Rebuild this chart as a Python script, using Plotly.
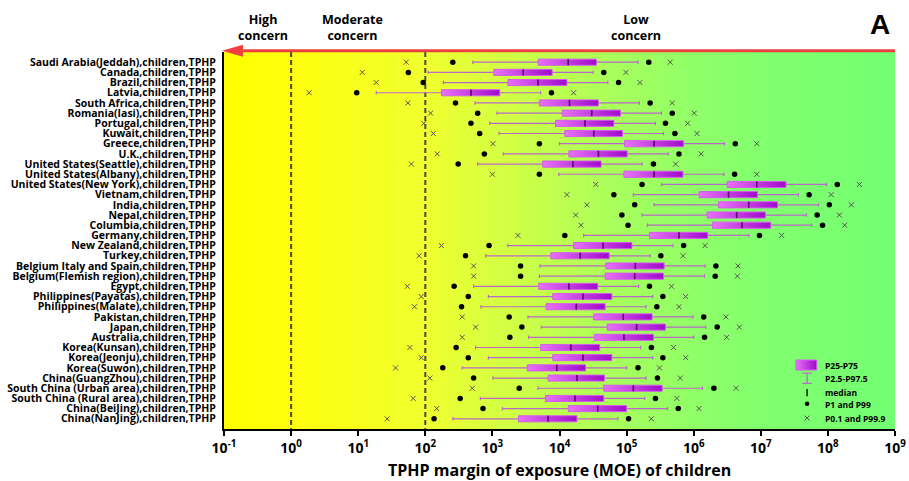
import plotly.graph_objects as go

labels = [
    "Saudi Arabia(Jeddah),children,TPHP", "Canada,children,TPHP", "Brazil,children,TPHP",
    "Latvia,children,TPHP", "South Africa,children,TPHP", "Romania(Iasi),children,TPHP",
    "Portugal,children,TPHP", "Kuwait,children,TPHP", "Greece,children,TPHP",
    "U.K.,children,TPHP", "United States(Seattle),children,TPHP",
    "United States(Albany),children,TPHP", "United States(New York),children,TPHP",
    "Vietnam,children,TPHP", "India,children,TPHP", "Nepal,children,TPHP",
    "Columbia,children,TPHP", "Germany,children,TPHP", "New Zealand,children,TPHP",
    "Turkey,children,TPHP", "Belgium Italy and Spain,children,TPHP",
    "Belgium(Flemish region),children,TPHP", "Egypt,children,TPHP",
    "Philippines(Payatas),children,TPHP", "Philippines(Malate),children,TPHP",
    "Pakistan,children,TPHP", "Japan,children,TPHP", "Australia,children,TPHP",
    "Korea(Kunsan),children,TPHP", "Korea(Jeonju),children,TPHP",
    "Korea(Suwon),children,TPHP", "China(GuangZhou),children,TPHP",
    "South China (Urban area),children,TPHP", "South China (Rural area),children,TPHP",
    "China(BeiJing),children,TPHP", "China(NanJing),children,TPHP",
]

p0_1 = [52, 11.5, 18.6, 1.86, 55, 120, 95, 132, 1020, 151, 62, 1000, 34700, 12900, 25700,
        17400, 20900, 2400, 174, 81, 525, 525, 54, 87, 69, 355, 562, 355, 59, 87, 36, 117,
        501, 66, 148, 27]
p1 = [257, 56, 93, 9.5, 282, 603, 479, 646, 5010, 759, 309, 5010, 170000, 64600, 132000,
      85100, 105000, 12000, 891, 398, 2630, 2630, 269, 437, 347, 1780, 2750, 1820, 288, 437,
      182, 525, 2510, 331, 724, 135]
p2_5 = [513, 110, 186, 18.6, 550, 1170, 912, 1260, 10000, 1450, 603, 9770, 331000, 126000,
        257000, 170000, 204000, 22900, 1700, 794, 5130, 5010, 525, 871, 676, 3390, 5370,
        3470, 562, 871, 355, 1020, 4790, 661, 1410, 257]
p25 = [4790, 1050, 1700, 174, 5010, 11000, 8710, 12000, 93300, 13800, 5620, 91200, 3160000,
       1200000, 2340000, 1580000, 1910000, 219000, 16200, 7410, 49000, 47900, 4900, 7940,
       6310, 32400, 51300, 33100, 5250, 7940, 3310, 6760, 45700, 6170, 13500, 2450]
p50 = [13500, 2880, 4790, 479, 14100, 30200, 24000, 32400, 257000, 38000, 15800, 257000,
       8710000, 3310000, 6610000, 4370000, 5250000, 603000, 44700, 20400, 135000, 132000,
       13800, 22400, 17800, 89100, 141000, 91200, 14800, 22400, 9120, 18200, 126000, 17000,
       37200, 6760]
p75 = [35500, 7760, 12900, 1290, 38000, 81300, 64600, 87100, 708000, 102000, 41700, 692000,
       23700000, 8910000, 17800000, 11700000, 14100000, 1620000, 120000, 55000, 363000,
       355000, 37200, 60300, 47900, 240000, 380000, 251000, 39800, 60300, 24500, 46800,
       339000, 45700, 100000, 18200]
p97_5 = [148000, 31600, 52500, 5250, 155000, 331000, 269000, 355000, 2880000, 417000, 170000,
         2820000, 95500000, 36300000, 72400000, 47900000, 57500000, 6610000, 490000, 224000,
         1480000, 1450000, 151000, 245000, 195000, 977000, 1510000, 1000000, 162000, 245000,
         100000, 195000, 1350000, 186000, 407000, 74100]
p99 = [214000, 45700, 75900, 7590, 224000, 479000, 380000, 525000, 4170000, 603000, 251000,
       4070000, 138000000, 52500000, 105000000, 69200000, 83200000, 9550000, 708000, 324000,
       2140000, 2090000, 219000, 347000, 282000, 1410000, 2240000, 1450000, 234000, 347000,
       148000, 288000, 2000000, 269000, 589000, 107000]
p99_9 = [447000, 97700, 158000, 16200, 479000, 1020000, 813000, 1120000, 8710000, 1290000,
         537000, 8710000, 295000000, 112000000, 224000000, 148000000, 178000000, 20400000,
         1480000, 692000, 4570000, 4470000, 468000, 759000, 603000, 3020000, 4790000,
         3090000, 501000, 759000, 309000, 631000, 4270000, 562000, 1200000, 234000]

tick_vals = [0.1, 1, 10, 100, 1e3, 1e4, 1e5, 1e6, 1e7, 1e8, 1e9]
tick_text = ["10<sup>-1</sup>", "10<sup>0</sup>", "10<sup>1</sup>", "10<sup>2</sup>",
             "10<sup>3</sup>", "10<sup>4</sup>", "10<sup>5</sup>", "10<sup>6</sup>",
             "10<sup>7</sup>", "10<sup>8</sup>", "10<sup>9</sup>"]
concern_lines = [1, 100]
legend_names = ["P25-P75", "P2.5-P97.5", "median", "P1 and P99", "P0.1 and P99.9"]

FONT = "Open Sans"
H = 0.3
CAP = 0.17
BOX_SCALE = [[0, "#E872F8"], [1, "#A00ACB"]]
n = len(labels)
idx = list(range(n))

fig = go.Figure()

# concern thresholds
dx, dy = [], []
for v in concern_lines:
    dx += [v, v, None]
    dy += [-1, n, None]
fig.add_trace(go.Scatter(x=dx, y=dy, mode="lines",
                         line=dict(color="#4a4a4a", width=2, dash="5px,3px"),
                         hoverinfo="skip"))

# whiskers
wx, wy = [], []
for i in idx:
    wx += [p2_5[i], p25[i], None, p75[i], p97_5[i], None,
           p2_5[i], p2_5[i], None, p97_5[i], p97_5[i], None]
    wy += [i, i, None, i, i, None, i - CAP, i + CAP, None, i - CAP, i + CAP, None]
fig.add_trace(go.Scatter(x=wx, y=wy, mode="lines",
                         line=dict(color="#B868C6", width=1.2), hoverinfo="skip"))

# boxes
for i in idx:
    fig.add_trace(go.Scatter(
        x=[p25[i], p75[i], p75[i], p25[i], p25[i]],
        y=[i - H, i - H, i + H, i + H, i - H],
        mode="lines", fill="toself",
        fillgradient=dict(type="horizontal", colorscale=BOX_SCALE),
        line=dict(color="#D45CEB", width=1), hoverinfo="skip"))

# medians
mx, my = [], []
for i in idx:
    mx += [p50[i], p50[i], None]
    my += [i - H, i + H, None]
fig.add_trace(go.Scatter(x=mx, y=my, mode="lines",
                         line=dict(color="#5A006E", width=1.6), hoverinfo="skip"))

# P1 / P99
fig.add_trace(go.Scatter(x=p1 + p99, y=idx + idx, mode="markers",
                         marker=dict(symbol="circle", size=5.5, color="black"),
                         hoverinfo="skip"))
# P0.1 / P99.9
fig.add_trace(go.Scatter(x=p0_1 + p99_9, y=idx + idx, mode="markers",
                         marker=dict(symbol="x-thin", size=5,
                                     line=dict(color="#555555", width=1)),
                         hoverinfo="skip"))

# ---- legend drawn on an overlay [0,1] axis pair ----
lx0, lx1 = 0.8525, 0.8833
lxc = 0.869
fig.add_trace(go.Scatter(x=[lx0, lx1, lx1, lx0, lx0],
                         y=[0.1565, 0.1565, 0.183, 0.183, 0.1565],
                         mode="lines", fill="toself",
                         fillgradient=dict(type="horizontal", colorscale=BOX_SCALE),
                         line=dict(color="#D45CEB", width=1),
                         xaxis="x2", yaxis="y2", hoverinfo="skip"))
fig.add_trace(go.Scatter(x=[lxc, lxc, None, lxc - 0.007, lxc + 0.007, None,
                            lxc - 0.007, lxc + 0.007],
                         y=[0.148, 0.121, None, 0.148, 0.148, None, 0.121, 0.121],
                         mode="lines", line=dict(color="#B868C6", width=1.2),
                         xaxis="x2", yaxis="y2", hoverinfo="skip"))
fig.add_trace(go.Scatter(x=[lxc, lxc], y=[0.106, 0.087], mode="lines",
                         line=dict(color="#222222", width=1.6),
                         xaxis="x2", yaxis="y2", hoverinfo="skip"))
fig.add_trace(go.Scatter(x=[lxc], y=[0.067], mode="markers",
                         marker=dict(symbol="circle", size=4.5, color="black"),
                         xaxis="x2", yaxis="y2", hoverinfo="skip"))
fig.add_trace(go.Scatter(x=[lxc], y=[0.029], mode="markers",
                         marker=dict(symbol="x-thin", size=5,
                                     line=dict(color="#555555", width=1)),
                         xaxis="x2", yaxis="y2", hoverinfo="skip"))

annotations = []
leg_y = [0.169, 0.133, 0.098, 0.066, 0.029]
for name, yy in zip(legend_names, leg_y):
    annotations.append(dict(text="<b>%s</b>" % name, x=0.893, y=yy, xref="paper",
                            yref="paper", xanchor="left", yanchor="middle",
                            showarrow=False,
                            font=dict(family=FONT, size=8.5, color="black")))

# header texts
for txt, xx in [("High<br>concern", 0.058), ("Moderate<br>concern", 0.192),
                ("Low<br>concern", 0.614)]:
    annotations.append(dict(text="<b>%s</b>" % txt, x=xx, y=1.064, xref="paper",
                            yref="paper", xanchor="center", yanchor="middle",
                            showarrow=False,
                            font=dict(family=FONT, size=12.5, color="black")))
annotations.append(dict(text="<b>A</b>", x=0.978, y=1.072, xref="paper", yref="paper",
                        xanchor="center", yanchor="middle", showarrow=False,
                        font=dict(family="Liberation Sans", size=28, color="black")))
annotations.append(dict(text="<b>TPHP margin of exposure (MOE) of children</b>",
                        x=0.5, y=-0.109, xref="paper", yref="paper",
                        xanchor="center", yanchor="middle", showarrow=False,
                        font=dict(family=FONT, size=16, color="black")))

# background gradient (yellow -> green)
stops = [(0.0, (255, 255, 0)), (0.1, (255, 255, 14)), (0.3, (240, 255, 46)),
         (0.4, (216, 255, 64)), (0.5, (190, 255, 80)), (0.6, (164, 255, 94)),
         (0.7, (144, 255, 104)), (0.8, (130, 255, 110)), (1.0, (114, 255, 114))]


def interp(t):
    for (t0, c0), (t1, c1) in zip(stops[:-1], stops[1:]):
        if t0 <= t <= t1:
            f = (t - t0) / (t1 - t0)
            return "rgb(%d,%d,%d)" % tuple(round(a + (b - a) * f) for a, b in zip(c0, c1))
    return "rgb(%d,%d,%d)" % stops[-1][1]


shapes = []
NS = 140
for k in range(NS):
    t0, t1 = k / NS, (k + 1) / NS
    shapes.append(dict(type="rect", xref="paper", yref="paper", x0=t0,
                       x1=min(1, t1 + 0.003), y0=0, y1=1,
                       fillcolor=interp((t0 + t1) / 2), line=dict(width=0),
                       layer="below"))
# red arrow along the top
shapes.append(dict(type="line", xref="paper", yref="paper", x0=0.02, x1=1.0,
                   y0=1.003, y1=1.003, line=dict(color="#EE4040", width=3)))
shapes.append(dict(type="path", xref="paper", yref="paper", xsizemode="pixel",
                   ysizemode="pixel", xanchor=0, yanchor=1.003,
                   path="M -2,0 L 19,6 L 19,-6 Z", fillcolor="#EE4040",
                   line=dict(width=0)))

fig.update_layout(
    width=909, height=481,
    margin=dict(l=224, r=14, t=52, b=52, autoexpand=False),
    paper_bgcolor="white", plot_bgcolor="white",
    showlegend=False,
    shapes=shapes, annotations=annotations,
    xaxis=dict(type="log", range=[-1, 9], tickvals=tick_vals, ticktext=tick_text,
               ticks="outside", ticklen=5, tickwidth=1.5, tickcolor="black",
               showline=True, linecolor="black", linewidth=2, showgrid=False,
               zeroline=False, automargin=False,
               tickfont=dict(family=FONT, size=14, color="black", weight="bold")),
    yaxis=dict(range=[n, -1], tickvals=idx, ticktext=labels, ticks="",
               showline=True, linecolor="black", linewidth=2, showgrid=False,
               zeroline=False, ticklabelstandoff=4, automargin=False,
               tickfont=dict(family=FONT, size=10.5, color="black", weight="bold")),
    xaxis2=dict(overlaying="x", range=[0, 1], visible=False, automargin=False),
    yaxis2=dict(overlaying="y", range=[0, 1], visible=False, automargin=False),
)

fig.write_html("out.html", config={"displayModeBar": False},
               post_script="document.body.style.margin='0';"
                           "document.body.style.overflow='hidden';")
